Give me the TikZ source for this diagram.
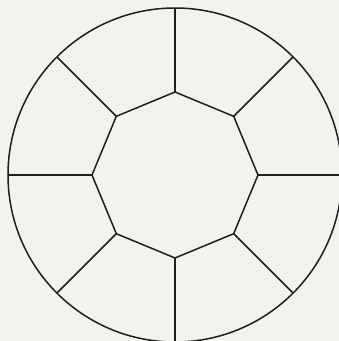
\documentclass[tikz,border=0pt]{standalone}
\usetikzlibrary{calc}
\definecolor{paper}{HTML}{F2F2EE}
\definecolor{ink}{HTML}{1E1E1E}

\begin{document}
\begin{tikzpicture}[x=1pt,y=1pt, wheel/.style={ink,line width=1.5pt,line join=miter}]
\fill[paper] (-175,-166) rectangle (164,175);
\useasboundingbox (-175,-166) rectangle (164,175);
\clip (-175,-166) rectangle (164,175);
\draw[wheel] (0,0) circle (167);
\foreach \i in {0,...,7}{
  \coordinate (v\i) at ({90+45*\i}:83);
  \coordinate (r\i) at ({90+45*\i}:167);
}
\draw[wheel] (v0) -- (v1) -- (v2) -- (v3) -- (v4) -- (v5) -- (v6) -- (v7) -- cycle;
\foreach \i in {0,...,7}
  \draw[wheel] (v\i) -- (r\i);
\end{tikzpicture}
\end{document}
